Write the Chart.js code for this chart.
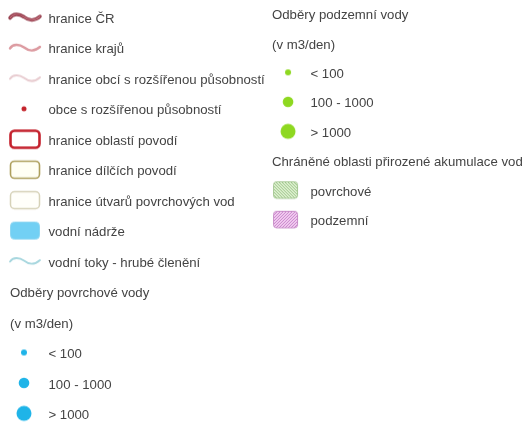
<!DOCTYPE html>
<html>
<head>
<meta charset="utf-8">
<script src="https://cdn.jsdelivr.net/npm/chart.js@4/dist/chart.umd.min.js"></script>
<style>
  html, body { margin: 0; padding: 0; background: #fff; overflow: hidden; }
  #wrap { width: 528px; height: 423px; position: relative; }
</style>
</head>
<body>
<div id="wrap"><canvas id="chart"></canvas></div>
<script>
// legend entries, left column (row = order in column)
var leftLabels = [
  'hranice ČR',
  'hranice krajů',
  'hranice obcí s rozšířenou působností',
  'obce s rozšířenou působností',
  'hranice oblastí povodí',
  'hranice dílčích povodí',
  'hranice útvarů povrchových vod',
  'vodní nádrže',
  'vodní toky - hrubé členění',
  'Odběry povrchové vody',
  '(v m3/den)',
  '< 100',
  '100 - 1000',
  '> 1000'
];
var leftSymbols = ['wCR', 'wKraj', 'wObec', 'dotObec', 'rOblast', 'rDilci', 'rUtvar', 'nadrz', 'tok',
  null, null, 'bS', 'bM', 'bL'];

// right column
var rightLabels = [
  'Odběry podzemní vody',
  '(v m3/den)',
  '< 100',
  '100 - 1000',
  '> 1000',
  'Chráněné oblasti přirozené akumulace vod',
  'povrchové',
  'podzemní'
];
var rightSymbols = [null, null, 'gS', 'gM', 'gL', null, 'hGreen', 'hPink'];

// ---- symbol pictures (36x22 canvases, centre = legend point) ----
function mk(draw) {
  var c = document.createElement('canvas');
  c.width = 36; c.height = 22;
  var g = c.getContext('2d');
  draw(g);
  return c;
}
function wave(g) {
  g.beginPath();
  g.moveTo(3, 11.5);
  g.bezierCurveTo(6, 7, 12, 7, 17, 10.5);
  g.bezierCurveTo(22, 14.5, 28, 14.5, 33, 10);
}
function box(g, x, w, fill, stroke, lw, r) {
  g.beginPath();
  g.roundRect(x, 2.5, w, 17, r);
  g.fillStyle = fill; g.fill();
  g.lineWidth = lw; g.strokeStyle = stroke; g.stroke();
}
function dot(g, cx, r, col) {
  g.beginPath(); g.arc(cx, 11, r, 0, Math.PI * 2);
  g.fillStyle = col; g.fill();
}
function hatch(g, fill, border, line, dir) {
  g.save();
  g.beginPath(); g.roundRect(4.5, 2.5, 24, 16.5, 3);
  g.fillStyle = fill; g.fill();
  g.clip();
  g.strokeStyle = line; g.lineWidth = 0.9;
  for (var k = -20; k < 40; k += 3) {
    g.beginPath();
    if (dir > 0) { g.moveTo(k, 22); g.lineTo(k + 22, 0); }
    else { g.moveTo(k, 0); g.lineTo(k + 22, 22); }
    g.stroke();
  }
  g.restore();
  g.beginPath(); g.roundRect(4.5, 2.5, 24, 16.5, 3);
  g.lineWidth = 1; g.strokeStyle = border; g.stroke();
}

var symbols = {
  wCR: mk(function (g) { g.lineCap = 'round'; wave(g); g.lineWidth = 3.4; g.strokeStyle = '#8a2c3c'; g.stroke(); wave(g); g.lineWidth = 1.2; g.strokeStyle = '#c87a86'; g.stroke(); }),
  wKraj: mk(function (g) { g.lineCap = 'round'; wave(g); g.lineWidth = 2.4; g.strokeStyle = '#dc9aa0'; g.stroke(); }),
  wObec: mk(function (g) { g.lineCap = 'round'; wave(g); g.lineWidth = 2; g.strokeStyle = '#e8ccd0'; g.stroke(); }),
  dotObec: mk(function (g) { dot(g, 17, 2.5, '#c4242c'); }),
  rOblast: mk(function (g) { box(g, 3.5, 29, '#fff', '#c4202c', 2.6, 4); }),
  rDilci: mk(function (g) { box(g, 3.5, 29, '#fffff4', '#ad9f5c', 1.6, 4); }),
  rUtvar: mk(function (g) { box(g, 3.5, 29, '#fffffa', '#d6d2b8', 1.5, 4); }),
  nadrz: mk(function (g) { box(g, 3.5, 29, '#72d0f4', '#8cd6f2', 1, 4); }),
  tok: mk(function (g) { g.lineCap = 'round'; wave(g); g.lineWidth = 1.8; g.strokeStyle = '#a6d6de'; g.stroke(); }),
  bS: mk(function (g) { dot(g, 17, 3, '#1fb4e8'); }),
  bM: mk(function (g) { dot(g, 17, 5.3, '#1fb4e8'); }),
  bL: mk(function (g) { dot(g, 17, 7.5, '#1fb4e8'); }),
  gS: mk(function (g) { dot(g, 19, 3, '#8ed820'); }),
  gM: mk(function (g) { dot(g, 19, 5.3, '#8ed820'); }),
  gL: mk(function (g) { dot(g, 19, 7.5, '#8ed820'); }),
  hGreen: mk(function (g) { hatch(g, '#e2f2d4', '#a6c894', '#8cbc78', -1); }),
  hPink: mk(function (g) { hatch(g, '#f4d2f2', '#c88ec8', '#c070c4', 1); })
};

function points(labels, col) {
  return labels.map(function (l, i) { return { x: col, y: i }; });
}

// text next to each legend point
var legendText = {
  id: 'legendText',
  afterDatasetsDraw: function (chart) {
    var ctx = chart.ctx;
    ctx.save();
    ctx.font = '13.2px "Liberation Sans", Arial, sans-serif';
    ctx.fillStyle = '#444';
    ctx.textBaseline = 'middle';
    chart.data.datasets.forEach(function (ds, d) {
      chart.getDatasetMeta(d).data.forEach(function (pt, i) {
        var sym = ds.symbols[i];
        var tx = sym ? pt.x + 23.5 : pt.x - 15;
        ctx.fillText(ds.labels[i], tx, pt.y + 2);
      });
    });
    ctx.restore();
  }
};

function symStyle(ctx) {
  var s = ctx.dataset.symbols[ctx.dataIndex];
  return s ? symbols[s] : 'circle';
}
function symRadius(ctx) {
  return ctx.dataset.symbols[ctx.dataIndex] ? 5 : 0;
}

new Chart(document.getElementById('chart'), {
  type: 'scatter',
  data: {
    datasets: [
      { data: points(leftLabels, 0), labels: leftLabels, symbols: leftSymbols, yAxisID: 'yL' },
      { data: points(rightLabels, 1), labels: rightLabels, symbols: rightSymbols, yAxisID: 'yR' }
    ]
  },
  options: {
    responsive: true,
    maintainAspectRatio: false,
    animation: false,
    layout: { padding: 0, autoPadding: false },
    elements: { point: { pointStyle: symStyle, radius: symRadius, hoverRadius: symRadius } },
    scales: {
      x: { type: 'linear', display: false, bounds: 'data', min: -0.0954, max: 1.9198 },
      yL: { type: 'linear', display: false, reverse: true, bounds: 'data', min: -0.571, max: 13.316 },
      yR: { type: 'linear', display: false, reverse: true, bounds: 'data', min: -0.4545, max: 13.894 }
    },
    plugins: { legend: { display: false }, tooltip: { enabled: false } }
  },
  plugins: [legendText]
});
</script>
</body>
</html>
